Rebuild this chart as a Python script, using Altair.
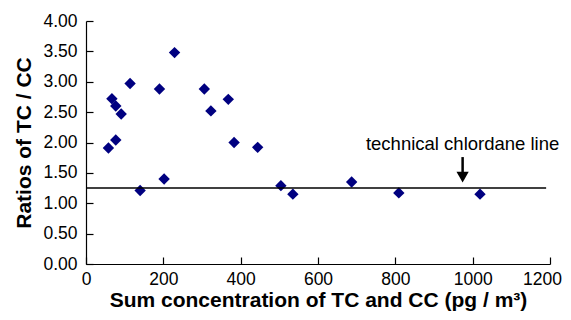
import altair as alt
import pandas as pd

# Data
conc = [58, 67, 77, 77, 91, 114, 140, 190, 202, 229, 306, 323, 368, 383, 444, 504, 535, 687, 809, 1019]
ratio = [1.91, 2.72, 2.60, 2.04, 2.47, 2.97, 1.21, 2.88, 1.40, 3.48, 2.88, 2.52, 2.71, 2.00, 1.92, 1.29, 1.15, 1.35, 1.17, 1.15]

line_x = [0, 1190]
line_y = [1.25, 1.25]

arrow_x = [974]
arrow_top = [1.76]
arrow_mid = [1.50]
arrow_head = [1.43]
label_y = [1.87]
label_text = ["technical chlordane line"]

x_ticks = [0, 200, 400, 600, 800, 1000, 1200]
y_ticks = [0, 0.5, 1, 1.5, 2, 2.5, 3, 3.5, 4]

FONT = "Liberation Sans"
W, H = 464, 243

pts = pd.DataFrame({"x": conc, "y": ratio})
ref = pd.DataFrame({"x": line_x, "y": line_y})
arr = pd.DataFrame({"x": arrow_x, "y": arrow_top, "y2": arrow_mid, "yh": arrow_head,
                    "ly": label_y, "t": label_text})

xs = alt.Scale(domain=[0, 1200], nice=False, zero=False)
ys = alt.Scale(domain=[0, 4], nice=False, zero=False)

points = alt.Chart(pts).mark_point(shape="diamond", filled=True, color="#000080", opacity=1, size=130).encode(
    x=alt.X("x:Q", scale=xs, axis=alt.Axis(
        title="Sum concentration of TC and CC (pg / m³)", values=x_ticks, format="d",
        ticks=False, labelPadding=6, titlePadding=2, grid=False, labelFlush=False,
        labelOffset={"condition": {"test": "datum.value == 1200", "value": -8}, "value": 0})),
    y=alt.Y("y:Q", scale=ys, axis=alt.Axis(
        title="Ratios of TC / CC", values=y_ticks, format=".2f",
        ticks=False, labelPadding=9, titlePadding=8, grid=False, labelFlush=False)),
)

refline = alt.Chart(ref).mark_line(color="black", strokeWidth=1.5).encode(
    x=alt.X("x:Q", scale=xs, axis=alt.Axis(orient="top", offset=-H, labels=False, title=None,
                                            values=x_ticks, tickSize=7,
                                            domain=False, grid=False)),
    y=alt.Y("y:Q", scale=ys, axis=alt.Axis(orient="right", offset=-W, labels=False, title=None,
                                            values=y_ticks, tickSize=7,
                                            domain=False, grid=False)),
)

shaft = alt.Chart(arr).mark_rule(color="black", strokeWidth=2.5).encode(
    x=alt.X("x:Q", scale=xs, axis=None), y=alt.Y("y:Q", scale=ys, axis=None), y2="y2:Q")
head = alt.Chart(arr).mark_point(shape="triangle-down", filled=True, color="black", opacity=1, size=150).encode(
    x=alt.X("x:Q", scale=xs, axis=None), y=alt.Y("yh:Q", scale=ys, axis=None))
label = alt.Chart(arr).mark_text(font=FONT, fontSize=18.5, align="center", baseline="alphabetic", color="black").encode(
    x=alt.X("x:Q", scale=xs, axis=None), y=alt.Y("ly:Q", scale=ys, axis=None), text="t:N")

chart = alt.layer(points, refline, shaft, head, label).resolve_axis(
    x="independent", y="independent"
).properties(
    width=W, height=H, autosize=alt.AutoSizeParams(type="none"),
    padding={"left": 78, "top": 13, "right": 13, "bottom": 48},
).configure_view(stroke=None).configure_axis(
    labelFont=FONT, titleFont=FONT, labelFontSize=17.5, titleFontSize=21, titleFontWeight="bold",
    labelColor="black", titleColor="black", domainColor="black", tickColor="black",
    domainWidth=1.2, tickWidth=1.2,
)

chart.save("out.html", embed_options={"renderer": "svg", "actions": False})
